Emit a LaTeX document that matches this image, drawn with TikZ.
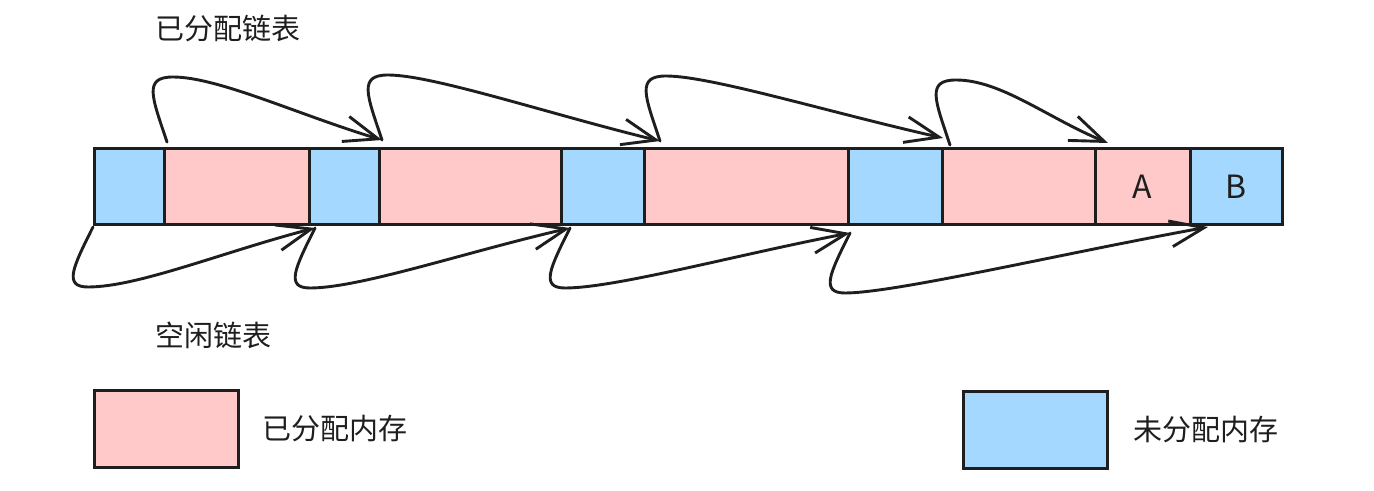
\documentclass[tikz,border=0pt]{standalone}
\usepackage{fontspec}
\setmainfont{Noto Sans CJK SC}
\usetikzlibrary{arrows.meta,positioning,calc}
\definecolor{ink}{RGB}{30,30,30}
\definecolor{usedmem}{RGB}{255,201,201}
\definecolor{freemem}{RGB}{165,216,255}
\tikzset{
  >={Straight Barb[length=17pt,width=13pt]},
  cell/.style={draw=ink,fill=#1,line width=1.5pt,inner sep=0pt,outer sep=0pt,
    anchor=north west,minimum height=38pt,font=\fontsize{16}{18}\selectfont,text=ink},
  cell/.default=usedmem,
  link/.style={->,line width=1.45pt,draw=ink,line cap=round,line join=round},
  tag/.style={font=\fontsize{14.5}{17}\selectfont,text=ink,anchor=west,inner sep=0pt},
}
\begin{document}
\begin{tikzpicture}[x=0.5pt,y=-0.5pt]
  \useasboundingbox (0,0) rectangle (1374,491);
  % memory cells
  \foreach \l/\r/\c/\t [count=\i] in {94/164/freemem/{},164/309/usedmem/{},309/379/freemem/{},
      379/561/usedmem/{},561/644/freemem/{},644/848/usedmem/{},848/942/freemem/{},
      942/1095/usedmem/{},1095/1190/usedmem/A,1190/1282/freemem/B}{
    \node[cell=\c,minimum width={(\r-\l)*0.5pt}] (c\i) at (\l,149) {\t};
  }
  \node[tag] (used) at (155,28) {已分配链表};
  \node[tag] (free) at (155,335) {空闲链表};
  % allocated list
  \foreach \a/\ax/\ay/\b/\bx/\by in {c2/3/-7/c4/3/-9,c4/3/-9/c6/16/-8,c6/16/-8/c8/1/-11,c8/8/-4/c9/13/-6}{
    \path ([shift={(\ax,\ay)}]\a.north west) coordinate (s)
      ([shift={(\bx,\by)}]\b.north west) coordinate (e)
      ($(s)+(6,-65)$) coordinate (p);
    \draw[link] (s) .. controls +(-15,-45) and +(-30,0) .. (p)
      .. controls +(45,0) and ($(e)!0.4!(p)$) .. (e);
  }
  % free list
  \foreach \a/\ax/\ay/\b/\bx/\by in {c1/-1/2/c3/6/3,c3/6/3/c5/9/3,c5/9/3/c7/2/8,c7/2/8/c10/18/2}{
    \path ([shift={(\ax,\ay)}]\a.south west) coordinate (s)
      ([shift={(\bx,\by)}]\b.south west) coordinate (e)
      ($(s)+(-5,60)$) coordinate (p);
    \draw[link] (s) .. controls +(-20,40) and +(-25,0) .. (p)
      .. controls +(50,0) and ($(e)!0.4!(p)$) .. (e);
  }
  % legend
  \node[cell=usedmem,minimum width=72pt,minimum height=38.5pt] (k1) at (94,390) {};
  \node[tag,right=12pt of k1] (l1) {已分配内存};
  \node[cell=freemem,minimum width=72pt,minimum height=38.5pt] (k2) at (963,391) {};
  \node[tag,right=13pt of k2] (l2) {未分配内存};
\end{tikzpicture}
\end{document}
